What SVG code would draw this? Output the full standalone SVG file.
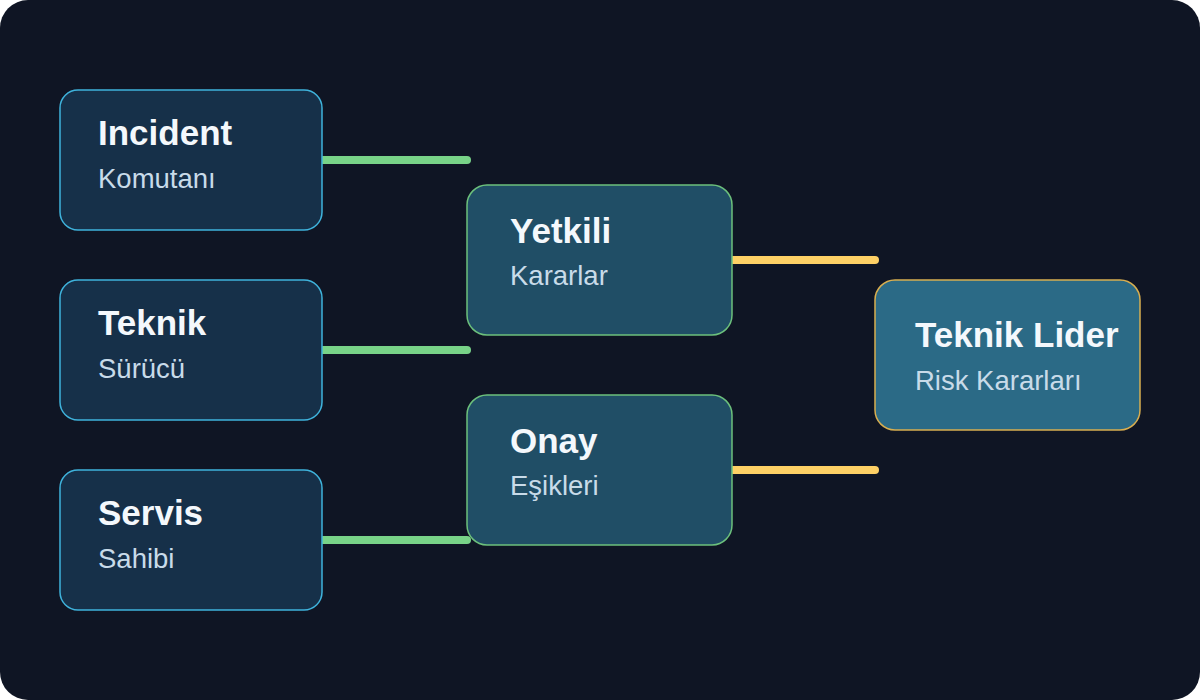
<svg xmlns="http://www.w3.org/2000/svg" width="1200" height="700" viewBox="0 0 1200 700">
<style>
.t{font-family:"Liberation Sans",Arial,sans-serif;font-weight:bold;font-size:35px;fill:#f4f8fc}
.s{font-family:"Liberation Sans",Arial,sans-serif;font-size:27.5px;fill:#c8dbe9}
.l rect{fill:#163049;stroke:#3fb3dc;stroke-width:1.5}
.m rect{fill:#204e66;stroke:#6cc07c;stroke-width:1.5}
.r rect{fill:#2b6a86;stroke:#d8ae50;stroke-width:1.5}
.g{stroke:#78d388;stroke-width:8;stroke-linecap:round;fill:none}
.y{stroke:#fdd065;stroke-width:8;stroke-linecap:round;fill:none}
</style>
<rect width="1200" height="700" fill="#ffffff"/>
<rect x="0" y="0" width="1200" height="700" rx="28" fill="#0f1524"/>
<g id="connectors">
<line class="g" x1="323" y1="160" x2="467" y2="160"/>
<line class="g" x1="323" y1="350" x2="467" y2="350"/>
<line class="g" x1="323" y1="540" x2="467" y2="540"/>
<line class="y" x1="733" y1="260" x2="875" y2="260"/>
<line class="y" x1="733" y1="470" x2="875" y2="470"/>
</g>
<g id="incident" class="l"><rect x="60" y="90" width="262" height="140" rx="18"/><text class="t" x="98" y="145">Incident</text><text class="s" x="98" y="188">Komutanı</text></g>
<g id="teknik" class="l"><rect x="60" y="280" width="262" height="140" rx="18"/><text class="t" x="98" y="335">Teknik</text><text class="s" x="98" y="378">Sürücü</text></g>
<g id="servis" class="l"><rect x="60" y="470" width="262" height="140" rx="18"/><text class="t" x="98" y="525">Servis</text><text class="s" x="98" y="568">Sahibi</text></g>
<g id="yetkili" class="m"><rect x="467" y="185" width="265" height="150" rx="20"/><text class="t" x="510" y="243">Yetkili</text><text class="s" x="510" y="285">Kararlar</text></g>
<g id="onay" class="m"><rect x="467" y="395" width="265" height="150" rx="20"/><text class="t" x="510" y="453">Onay</text><text class="s" x="510" y="495">Eşikleri</text></g>
<g id="lider" class="r"><rect x="875" y="280" width="265" height="150" rx="20"/><text class="t" x="915" y="347">Teknik Lider</text><text class="s" x="915" y="390">Risk Kararları</text></g>
</svg>
